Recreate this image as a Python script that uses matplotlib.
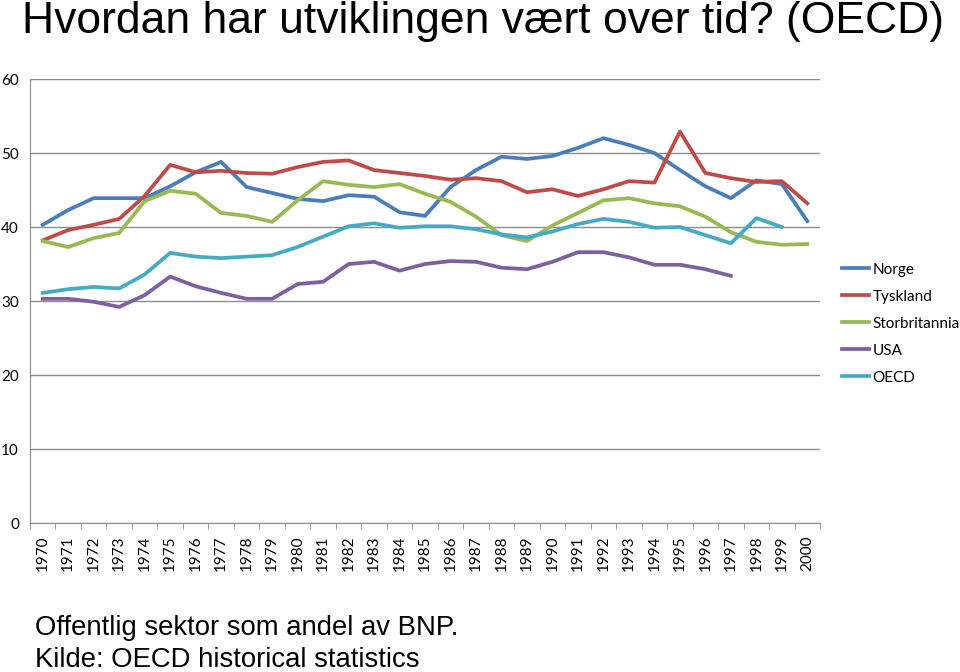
import matplotlib
matplotlib.use("Agg")
import matplotlib.pyplot as plt
from matplotlib.ticker import FixedLocator, NullFormatter
import numpy as np

years = list(range(1970, 2001))

norge = [40.3, 42.3, 43.9, 43.9, 43.9, 45.5, 47.4, 48.8, 45.4, 44.6,
         43.8, 43.5, 44.3, 44.1, 42.0, 41.5, 45.4, 47.7, 49.5, 49.2,
         49.6, 50.7, 52.0, 51.1, 50.0, 47.7, 45.5, 43.9, 46.3, 45.8, 40.8]
tyskland = [38.2, 39.6, 40.3, 41.1, 44.2, 48.4, 47.4, 47.6, 47.3, 47.2,
            48.1, 48.8, 49.0, 47.7, 47.3, 46.9, 46.4, 46.6, 46.2, 44.7,
            45.1, 44.2, 45.1, 46.2, 46.0, 52.9, 47.3, 46.6, 46.1, 46.2, 43.2]
storbritannia = [38.1, 37.3, 38.5, 39.2, 43.5, 44.9, 44.5, 41.9, 41.5, 40.7,
                 43.6, 46.2, 45.7, 45.4, 45.8, 44.5, 43.4, 41.4, 38.9, 38.1,
                 40.2, 41.9, 43.6, 43.9, 43.2, 42.8, 41.4, 39.3, 38.0, 37.6, 37.7]
usa = [30.3, 30.3, 29.9, 29.2, 30.8, 33.3, 32.0, 31.1, 30.3, 30.3,
       32.3, 32.6, 35.0, 35.3, 34.1, 35.0, 35.4, 35.3, 34.5, 34.3,
       35.3, 36.6, 36.6, 35.9, 34.9, 34.9, 34.3, 33.4, None, None, None]
oecd = [31.1, 31.6, 31.9, 31.7, 33.6, 36.5, 36.0, 35.8, 36.0, 36.2,
        37.3, 38.7, 40.1, 40.5, 39.9, 40.1, 40.1, 39.7, 39.0, 38.6,
        39.4, 40.4, 41.1, 40.7, 39.9, 40.0, 38.9, 37.8, 41.2, 40.0, None]

series = [("Norge", norge, "#4A7EBB"),
          ("Tyskland", tyskland, "#BE4B48"),
          ("Storbritannia", storbritannia, "#98B954"),
          ("USA", usa, "#7D60A0"),
          ("OECD", oecd, "#46AAC5")]

fig = plt.figure(figsize=(9.6, 6.72), dpi=100)
ax = fig.add_axes([0.03125, 0.2217, 0.823, 0.6607])

x = np.arange(len(years))
for name, vals, col in series:
    v = np.array([np.nan if a is None else a for a in vals], dtype=float)
    ax.plot(x, v, color=col, lw=2.7, label=name, solid_joinstyle="round")

ax.set_xlim(-0.5, len(years) - 0.5)
ax.set_ylim(0, 60)
ax.set_yticks(range(0, 61, 10))
ax.yaxis.grid(True, color="#8c8c8c", lw=1)
ax.set_axisbelow(True)

# category labels in the middle, tick marks on the boundaries
ax.set_xticks(x)
ax.set_xticklabels([str(y) for y in years], rotation=90, family="Lato", fontsize=11)
ax.tick_params(axis="x", which="major", length=0, pad=9)
ax.xaxis.set_minor_locator(FixedLocator(np.arange(-0.5, len(years), 1)))
ax.xaxis.set_minor_formatter(NullFormatter())
ax.tick_params(axis="x", which="minor", length=4, color="#8c8c8c", direction="out")
ax.tick_params(axis="y", length=0, pad=8, labelsize=11)
for lbl in ax.get_yticklabels():
    lbl.set_family("Lato")

for s in ["top", "right"]:
    ax.spines[s].set_visible(False)
ax.spines["left"].set_color("#8c8c8c")
ax.spines["bottom"].set_color("#8c8c8c")

leg = ax.legend(loc="upper left", bbox_to_anchor=(1.02, 0.60), frameon=False,
                prop={"family": "Lato", "size": 11}, handlelength=1.8,
                handletextpad=0.2, labelspacing=0.85, borderaxespad=0)

fig.text(0.023, 0.968, "Hvordan har utviklingen vært over tid? (OECD)",
         fontsize=32, family="Liberation Sans", va="center", ha="left")
fig.text(0.036, 0.065, "Offentlig sektor som andel av BNP.",
         fontsize=19.8, family="Liberation Sans", va="center", ha="left")
fig.text(0.036, 0.018, "Kilde: OECD historical statistics",
         fontsize=19.8, family="Liberation Sans", va="center", ha="left")

fig.savefig("out.png", dpi=100)
